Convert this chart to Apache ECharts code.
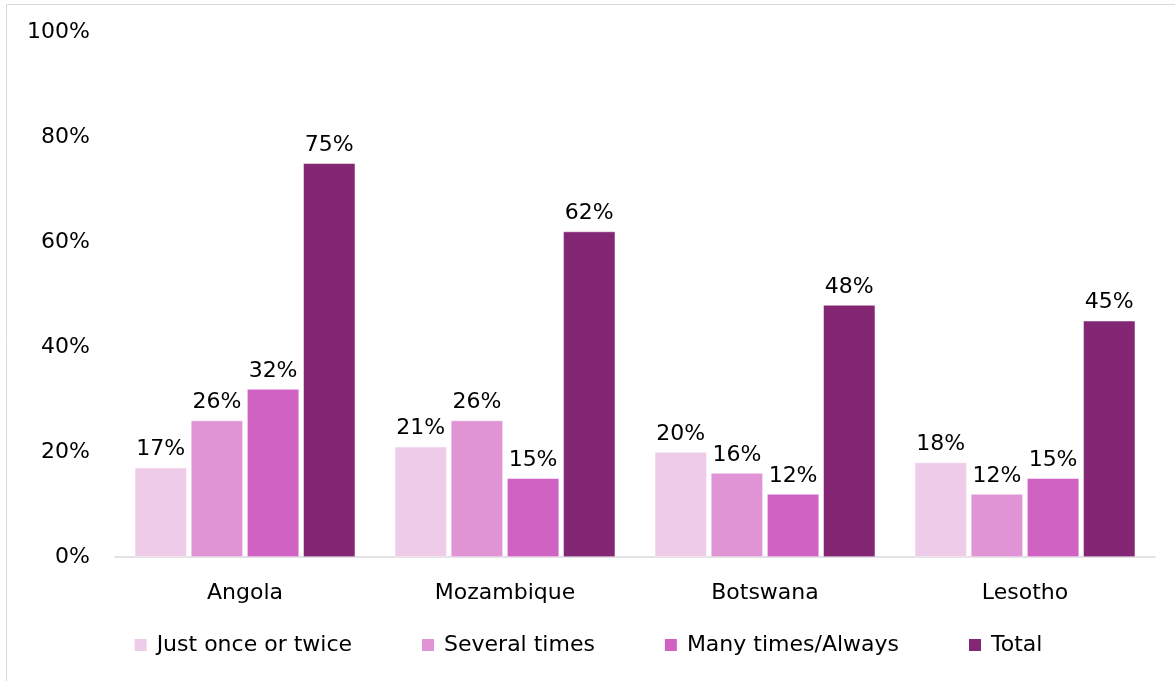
<!DOCTYPE html>
<html><head><meta charset="utf-8">
<script src="https://cdn.jsdelivr.net/npm/echarts@6/dist/echarts.min.js"></script>
<style>html,body{margin:0;padding:0;background:#fff;}#c{width:1175px;height:681px;}</style>
</head><body><div id="c"></div>
<script>
const categories = ['Angola', 'Mozambique', 'Botswana', 'Lesotho'];
const seriesNames = ['Just once or twice', 'Several times', 'Many times/Always', 'Total'];
const justOnce = [17, 21, 20, 18];
const severalTimes = [26, 26, 16, 12];
const manyTimes = [32, 15, 12, 15];
const total = [75, 62, 48, 45];
const colors = ['#EFCBEA', '#E094D6', '#D062C4', '#832775'];
const values = [justOnce, severalTimes, manyTimes, total];
const FONT = '"DejaVu Sans", sans-serif';
const FS = 22;

const chart = echarts.init(document.getElementById('c'));
chart.setOption({
  animation: false,
  graphic: [{type: 'rect', shape: {x: 6.5, y: 4.5, width: 1175, height: 690}, style: {fill: 'none', stroke: '#d9d9d9', lineWidth: 1}}],
  grid: {left: 115, right: 20, top: 32, bottom: 124},
  legend: {
    bottom: 20, left: 'center', itemWidth: 14, itemHeight: 14, itemGap: 68,
    icon: 'rect',
    textStyle: {fontFamily: FONT, fontSize: FS, color: '#000', padding: [0, 0, 0, 4]}
  },
  xAxis: {
    type: 'category', data: categories,
    axisLine: {lineStyle: {color: '#d9d9d9', width: 1.5}},
    axisTick: {show: false},
    axisLabel: {fontFamily: FONT, fontSize: FS, color: '#000', margin: 25}
  },
  yAxis: {
    type: 'value', min: 0, max: 100, interval: 20,
    splitLine: {show: false},
    axisLine: {show: false}, axisTick: {show: false},
    axisLabel: {fontFamily: FONT, fontSize: FS, color: '#000', formatter: '{value}%', margin: 25}
  },
  series: values.map((v, i) => ({
    name: seriesNames[i], type: 'bar', data: v,
    barWidth: 52, barGap: '8%',
    itemStyle: {color: colors[i], borderColor: '#fff', borderWidth: 0.5},
    label: {show: true, position: 'top', formatter: '{c}%', fontFamily: FONT, fontSize: FS, color: '#000', distance: 7}
  }))
});
</script></body></html>
